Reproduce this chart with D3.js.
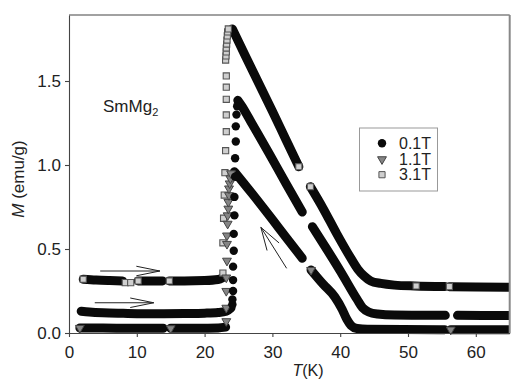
<!DOCTYPE html>
<html>
<head>
<meta charset="utf-8">
<script src="https://cdn.jsdelivr.net/npm/d3@7"></script>
<style>
  html, body { margin: 0; padding: 0; background: #fff; }
  svg { display: block; }
  text { font-family: "Liberation Sans", Arial, sans-serif; fill: #222; }
</style>
</head>
<body>
<svg id="chart" width="511" height="381"></svg>
<script>
// ---------- data ----------
const fields = ["0.1T", "1.1T", "3.1T"];
const xTicks = [0, 10, 20, 30, 40, 50, 60];
const yTicks = [0, 0.5, 1.0, 1.5];

// dense measured curves (null = gap in the data)
const t01 = [1.8, 3, 5, 8, 11, 14, 17, 20, 22, 23.2, 23.9, null, 24.9, 25.5, 27, 29.5, 32, 34.4, null, 35.9, 38, 40, 42.5, 43.3, 44.2, 45.5, 48, 52, 55.5, null, 57.3, 61, 65];
const m01 = [0.13, 0.125, 0.12, 0.117, 0.115, 0.115, 0.116, 0.118, 0.122, 0.13, 0.15, null, 1.385, 1.35, 1.245, 1.07, 0.89, 0.72, null, 0.633, 0.50, 0.37, 0.20, 0.15, 0.125, 0.113, 0.107, 0.106, 0.105, null, 0.105, 0.104, 0.104];

const t11 = [1.6, 5, 9, 13.9, null, 15.0, 19, 22, 23.1, null, 24.4, 27, 30, 32, 34.4, null, 35.7, 37.5, 39.2, 40.3, 41.0, 41.6, 42.5, 44, 55.4, null, 56.3, 65];
const m11 = [0.03, 0.03, 0.028, 0.028, null, 0.028, 0.028, 0.03, 0.035, null, 0.96, 0.83, 0.675, 0.57, 0.445, null, 0.375, 0.29, 0.215, 0.14, 0.08, 0.045, 0.027, 0.022, 0.02, null, 0.02, 0.02];

const t31 = [2.1, 4, 6, 7.9, null, 10.2, 12, 13.8, null, 14.8, 17, 20, 22, 22.7, null, 24.1, 26, 28, 30, 32, 33.9, null, 35.6, 37.5, 39.5, 41.5, 42.6, 43.5, 44.5, 46, 48, 51, 55.4, null, 56.1, 60, 65];
const m31 = [0.32, 0.315, 0.312, 0.31, null, 0.31, 0.31, 0.31, null, 0.31, 0.31, 0.312, 0.318, 0.33, null, 1.81, 1.65, 1.485, 1.32, 1.15, 0.99, null, 0.871, 0.74, 0.59, 0.45, 0.38, 0.34, 0.31, 0.295, 0.285, 0.28, 0.277, null, 0.276, 0.274, 0.272];

// individually visible markers (transition + isolated points)
const pt01T = [24.1, 24.1, 24.2, 24.2, 24.2, 24.3, 24.3, 24.4, 24.4, 24.5, 24.5, 24.6, 24.6, 24.7, 24.8];
const pt01M = [0.17, 0.20, 0.25, 0.315, 0.395, 0.49, 0.59, 0.70, 0.81, 0.93, 1.04, 1.14, 1.23, 1.30, 1.35];

const pt11T = [1.6, 15.0, 23.2, 23.2, 23.2, 23.2, 23.3, 23.3, 23.3, 23.4, 23.4, 23.5, 23.5, 23.6, 23.6, 23.7, 23.8, 23.9, 35.7, 56.3];
const pt11M = [0.03, 0.028, 0.07, 0.15, 0.25, 0.33, 0.43, 0.53, 0.58, 0.65, 0.70, 0.74, 0.78, 0.82, 0.86, 0.89, 0.92, 0.95, 0.375, 0.02];

const pt31T = [2.1, 8.3, 9.1, 10.2, 14.8, 22.7, 22.7, 22.8, 22.9, 23.0, 23.1, 23.2, 23.2, 23.2, 23.2, 23.2, 23.1, 23.15, 23.2, 23.2, 23.25, 23.3, 23.35, 23.4, 23.5, 33.9, 35.6, 51.2, 56.1];
const pt31M = [0.32, 0.30, 0.30, 0.31, 0.31, 0.357, 0.537, 0.683, 0.821, 0.954, 1.085, 1.198, 1.298, 1.391, 1.463, 1.530, 1.625, 1.649, 1.673, 1.696, 1.720, 1.744, 1.768, 1.792, 1.81, 0.99, 0.871, 0.28, 0.276];

// annotation arrows [T, M] (tail -> tip)
const arrowTail = [[4.6, 0.369], [3.8, 0.18], [32.1, 0.385]];
const arrowTip  = [[13.4, 0.369], [12.5, 0.18], [28.3, 0.629]];

// ---------- layout ----------
const svg = d3.select("#chart");
const L = 69, R = 509.7, T = 15, B = 333;
const x = d3.scaleLinear().domain([0, 65]).range([L, R]);
const y = d3.scaleLinear().domain([0, (B - T) / 168]).range([B, T]);

const zip = (a, b) => a.map((v, i) => ({ t: v, m: b[i] }));
const curves = [zip(t31, m31), zip(t11, m11), zip(t01, m01)];

svg.append("clipPath").attr("id", "clip")
  .append("rect").attr("x", L).attr("y", T - 5).attr("width", R - L).attr("height", B - T + 10);

const plot = svg.append("g").attr("clip-path", "url(#clip)");

const line = d3.line()
  .defined(d => d.t != null)
  .x(d => x(d.t)).y(d => y(d.m))
  .curve(d3.curveMonotoneX);

plot.selectAll("path.curve").data(curves).join("path")
  .attr("class", "curve")
  .attr("d", line)
  .attr("fill", "none")
  .attr("stroke", "#0a0a0a")
  .attr("stroke-width", 9)
  .attr("stroke-linecap", "round")
  .attr("stroke-linejoin", "round");

const sq = d3.symbol().type(d3.symbolSquare).size(38);
const tri = d3.symbol().type(d3.symbolTriangle).size(34);

// squares (3.1T)
plot.selectAll("path.sq").data(zip(pt31T, pt31M)).join("path")
  .attr("class", "sq")
  .attr("d", sq)
  .attr("transform", d => `translate(${x(d.t)},${y(d.m)})`)
  .attr("fill", "#cfcfcf").attr("stroke", "#555").attr("stroke-width", 1.1);

// triangles (1.1T)
plot.selectAll("path.tri").data(zip(pt11T, pt11M)).join("path")
  .attr("class", "tri")
  .attr("d", tri)
  .attr("transform", d => `translate(${x(d.t)},${y(d.m)}) rotate(180)`)
  .attr("fill", "#858585").attr("stroke", "#444").attr("stroke-width", 1);

// circles (0.1T)
plot.selectAll("circle.c").data(zip(pt01T, pt01M)).join("circle")
  .attr("class", "c")
  .attr("cx", d => x(d.t)).attr("cy", d => y(d.m)).attr("r", 4.2)
  .attr("fill", "#0a0a0a");

// arrows
arrowTail.forEach((a, i) => {
  const b = arrowTip[i];
  const x0 = x(a[0]), y0 = y(a[1]), x1 = x(b[0]), y1 = y(b[1]);
  const ang = Math.atan2(y0 - y1, x0 - x1);
  const len = 24, spread = i < 2 ? 0.2 : 0.3;
  const g = svg.append("g").attr("stroke", "#222").attr("stroke-width", 1).attr("fill", "none");
  g.append("line").attr("x1", x0).attr("y1", y0).attr("x2", x1).attr("y2", y1);
  g.append("polyline").attr("points", [
    [x1 + len * Math.cos(ang + spread), y1 + len * Math.sin(ang + spread)],
    [x1, y1],
    [x1 + len * Math.cos(ang - spread), y1 + len * Math.sin(ang - spread)]
  ].map(p => p.join(",")).join(" "));
});

// frame
svg.append("line").attr("x1", L).attr("x2", R).attr("y1", T).attr("y2", T)
  .attr("stroke", "#444").attr("stroke-width", 1.2);
svg.append("line").attr("x1", R).attr("x2", R).attr("y1", T).attr("y2", B)
  .attr("stroke", "#888").attr("stroke-width", 2);

// axes
const xAxis = svg.append("g").attr("transform", `translate(0,${B})`)
  .call(d3.axisBottom(x).tickValues(xTicks).tickSize(4).tickSizeOuter(0).tickPadding(9).tickFormat(d3.format("d")));
const yAxis = svg.append("g").attr("transform", `translate(${L},0)`)
  .call(d3.axisLeft(y).tickValues(yTicks).tickSize(4).tickSizeOuter(0).tickPadding(4).tickFormat(d3.format(".1f")));
[xAxis, yAxis].forEach(a => {
  a.selectAll("path, line").attr("stroke", "#444").attr("stroke-width", 1.1);
  a.selectAll("text").attr("font-size", 17).attr("fill", "#222")
    .attr("font-family", "'Liberation Sans', Arial, sans-serif");
});

// axis titles
const xt = svg.append("text").attr("x", 308).attr("y", 376).attr("text-anchor", "middle").attr("font-size", 16);
xt.append("tspan").attr("font-style", "italic").text("T");
xt.append("tspan").text("(K)");

const yt = svg.append("text").attr("transform", "translate(24,179) rotate(-90)")
  .attr("text-anchor", "middle").attr("font-size", 17);
yt.append("tspan").attr("font-style", "italic").text("M");
yt.append("tspan").text(" (emu/g)");

// compound label
const lab = svg.append("text").attr("x", 103).attr("y", 112).attr("font-size", 17);
lab.append("tspan").text("SmMg");
lab.append("tspan").attr("font-size", 11).attr("dy", 4).text("2");

// legend
const lg = svg.append("g");
lg.append("rect").attr("x", 359.5).attr("y", 128).attr("width", 78).attr("height", 63)
  .attr("fill", "#fff").attr("stroke", "#999").attr("stroke-width", 1);
const ly = [143.3, 159.3, 174.7];
lg.append("circle").attr("cx", 382).attr("cy", ly[0]).attr("r", 4.2).attr("fill", "#0a0a0a");
lg.append("path").attr("d", tri).attr("transform", `translate(382,${ly[1]}) rotate(180)`)
  .attr("fill", "#858585").attr("stroke", "#444");
lg.append("path").attr("d", sq).attr("transform", `translate(382,${ly[2]})`)
  .attr("fill", "#cfcfcf").attr("stroke", "#555");
lg.selectAll("text").data(fields).join("text")
  .attr("x", 399).attr("y", (d, i) => ly[i] + 5.6).attr("font-size", 16).text(d => d);
</script>
</body>
</html>
